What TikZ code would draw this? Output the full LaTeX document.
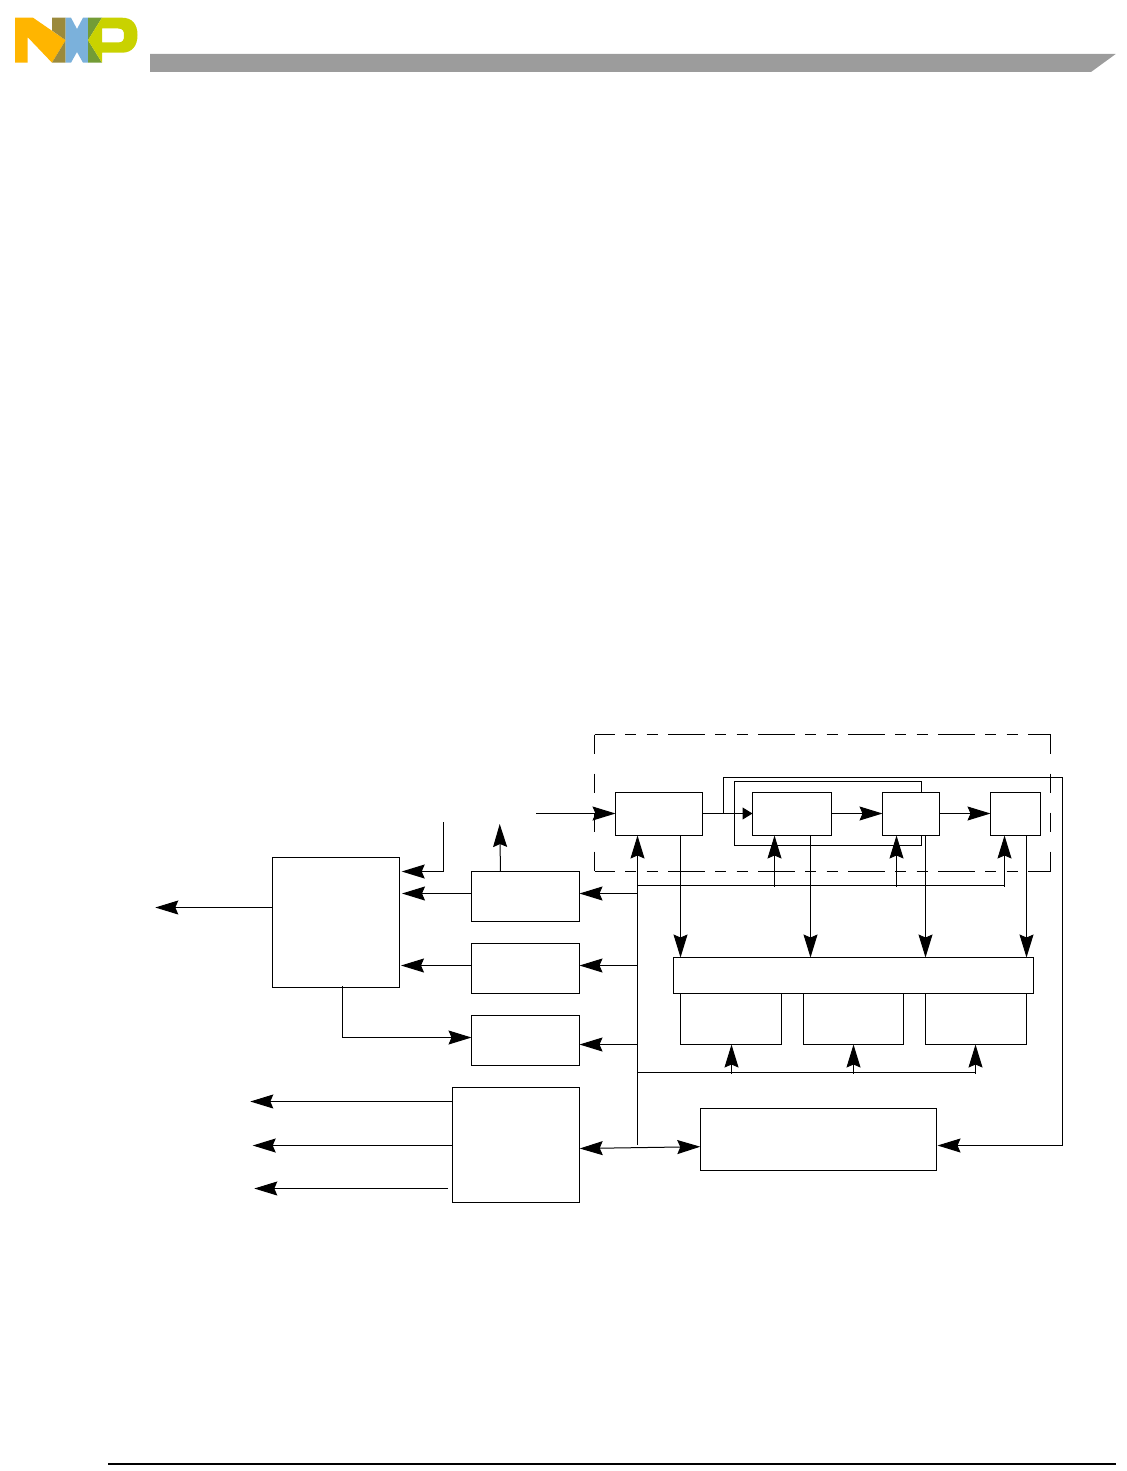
\documentclass[tikz,border=0pt]{standalone}
\usepackage{tikz}
\usetikzlibrary{positioning,arrows.meta}
\definecolor{nxporange}{HTML}{FFB500}
\definecolor{nxpolive}{HTML}{9B8A3C}
\definecolor{nxpblue}{HTML}{7BB1DB}
\definecolor{nxpgreen}{HTML}{739C36}
\definecolor{nxplime}{HTML}{C9D200}
\tikzset{
  blk/.style={draw,line width=0.5pt,inner sep=0pt,outer sep=0pt},
  wire/.style={line width=0.5pt},
  arw/.style={wire,-{Stealth[length=11.5pt,width=7pt,inset=1.5pt]}},
  arwb/.style={wire,{Stealth[length=11.5pt,width=7pt,inset=1.5pt]}-{Stealth[length=11.5pt,width=7pt,inset=1.5pt]}},
  arwsm/.style={wire,-{Stealth[length=5pt,width=6pt,inset=0pt]}},
  dashh/.style={wire,dash pattern=on 18.25pt off 5.25pt on 5.5pt off 5.25pt on 5.5pt off 5.25pt,dash phase=8.25pt},
  dashv/.style={wire,dash pattern=on 9.75pt off 9.75pt},
}
\begin{document}
\begin{tikzpicture}[x=0.5pt,y=-0.5pt]
  \useasboundingbox (0,0) rectangle (1127,1471);
  % logo
  \fill[nxporange] (15,17.7) -- (33,17.7) -- (65.7,40.2) -- (52,62.7) -- (27.5,37) -- (27.5,62.7) -- (15,62.7) -- cycle;
  \fill[nxpolive] (52,30.5) -- (52,17.7) -- (65.7,17.7) -- (65.7,40.2) -- cycle;
  \fill[nxpolive] (52,62.7) -- (65.7,62.7) -- (65.7,40.2) -- cycle;
  \fill[nxpblue] (65.7,17.7) -- (71,17.7) -- (77,29) -- (83,17.7) -- (88,17.7) -- (88,62.7) -- (83,62.7)
    -- (77,52) -- (71,62.7) -- (65.7,62.7) -- cycle;
  \fill[nxpgreen] (88,17.7) -- (102,17.7) -- (88,40.2) -- cycle;
  \fill[nxpgreen] (88,40.2) -- (102,62.7) -- (88,62.7) -- cycle;
  \fill[nxplime,even odd rule] (88,40.2) -- (102,17.7) -- (122,17.7) .. controls (132,17.7) and (137.5,24) .. (137.5,35)
    .. controls (137.5,46) and (132,52.7) .. (122,52.7) -- (102,52.7) -- (102,62.7) -- cycle
    (102,28.5) -- (118,28.5) .. controls (123,28.5) and (124,31) .. (124,35.5)
    .. controls (124,40) and (123,42.5) .. (118,42.5) -- (102,42.5) -- cycle;
  % page header and footer
  \fill[black!39] (150,54) -- (1115.7,54) -- (1091,72) -- (150,72) -- cycle;
  \draw[line width=0.6pt] (108,1464) -- (1116,1464);

  % dashed frame round the top row
  \coordinate (fnw) at (594.5,734.5);
  \coordinate (fne) at (1050.5,734.5);
  \coordinate (fsw) at (594.5,871.5);
  \coordinate (fse) at (1050.5,871.5);
  \draw[dashh] (fnw) -- (fne);
  \draw[dashh] (fsw) -- (fse);
  \draw[dashv] (fnw) -- (fsw);
  \draw[dashv] (fne) -- (fse);

  % boxes: name/centre/size
  \foreach \n/\cx/\cy/\w/\h in {top1/659/814/87/43, top2/792/814/79/43, top3/911/814/57/43,
      top4/1015.5/814/50/43, bar/853.5/975.5/360/36, mem1/731/1019/101/51, mem2/853.5/1019/100/51,
      mem3/976/1019/101/51, ctl/818.5/1139.5/236/62, mac/336/922.5/127/130, gen1/525.5/896.5/108/50,
      gen2/525.5/968.5/108/50, gen3/525.5/1040.5/108/50, phy/516/1145/127/115}{
    \node[blk,minimum width=\w*0.5pt,minimum height=\h*0.5pt] (\n) at (\cx,\cy) {};
  }

  % top row, left to right
  \coordinate (inl) at (536,813.5);
  \draw[arw] (inl) -- (inl -| top1.west);
  \draw[arwsm] (inl -| top1.east) -- (inl -| top2.west);
  \draw[arw] (inl -| top2.east) -- (inl -| top3.west);
  \draw[arw] (inl -| top3.east) -- (inl -| top4.west);

  % loops off the top row
  \coordinate (lp0) at (723.5,813.5);
  \coordinate (lp1) at (1062.5,777.5);
  \coordinate (lp2) at (937.5,1145.5);
  \draw[arw] (lp0) |- (lp1) |- (lp2);
  \coordinate (il0) at (921.5,792.5);
  \coordinate (il1) at (734.5,781.5);
  \coordinate (il2) at (921.5,845.5);
  \draw[wire] (il0) |- (il1) |- (il2) -- (il0 |- top3.south);

  % control bus
  \coordinate (busa) at (637.5,885.5);
  \coordinate (busb) at (637.5,1072.5);
  \coordinate (busc) at (637.5,1145);
  \draw[arw] (busc) -- (busc |- top1.south);
  \coordinate (busae) at (1004.5,885.5);
  \draw[wire] (busa) -- (busae);
  \draw[wire] (busb) -- (975.5,1072.5);
  \foreach \n/\x in {top2/774.5,top3/896.5,top4/1004.5}{
    \coordinate (tp) at (\x,886.5);
    \draw[arw] (tp) -- (tp |- \n.south);
  }
  \foreach \n/\x in {mem1/731.5,mem2/853.5,mem3/975.5}{
    \coordinate (tp) at (\x,1073.5);
    \draw[arw] (tp) -- (tp |- \n.south);
  }
  \foreach \n/\x in {top1/680.5,top2/810.5,top3/925.5,top4/1026.5}{
    \coordinate (tp) at (\x,957);
    \draw[arw] (tp |- \n.south) -- (tp |- bar.north);
  }
  \foreach \n/\y in {gen1/893.5,gen2/965.5,gen3/1044.5}{
    \coordinate (tp) at (637.5,\y);
    \draw[arw] (tp) -- (tp -| \n.east);
  }

  % left side
  \coordinate (ma1) at (443.5,822);
  \coordinate (ma2) at (401.7,871.5);
  \draw[arw] (ma1) |- (ma2);
  \coordinate (ma3) at (402,893.5);
  \draw[arw] (ma3 -| gen1.west) -- (ma3);
  \coordinate (ma4) at (401,965.5);
  \draw[arw] (ma4 -| gen2.west) -- (ma4);
  \coordinate (ma5) at (155.3,907.5);
  \draw[arw] (ma5 -| mac.west) -- (ma5);
  \coordinate (ma6) at (342.5,986);
  \coordinate (ma7) at (471.5,1037.5);
  \draw[arw] (ma6) |- (ma7);
  \coordinate (up1) at (500.5,871.5);
  \coordinate (up2) at (499.7,824);
  \draw[arw] (up1) -- (up2);

  % outputs of the lower left box
  \coordinate (ph1) at (250.3,1101.5);
  \coordinate (ph2) at (252.7,1145.5);
  \coordinate (ph3) at (254.3,1188.5);
  \coordinate (ph4) at (448,1188.5);
  \draw[arw] (ph1 -| phy.west) -- (ph1);
  \draw[arw] (ph2 -| phy.west) -- (ph2);
  \draw[arw] (ph4) -- (ph3);
  \coordinate (dba) at (579.7,1148.5);
  \coordinate (dbb) at (700.3,1146.7);
  \draw[arwb] (dba) -- (dbb);
\end{tikzpicture}
\end{document}
